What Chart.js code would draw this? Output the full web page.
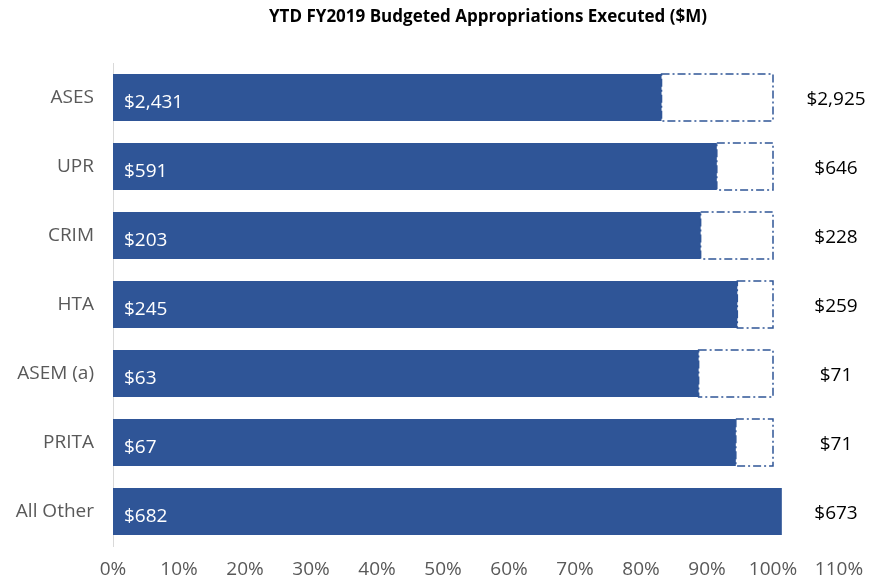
<!DOCTYPE html>
<html>
<head>
<meta charset="utf-8">
<script src="https://cdn.jsdelivr.net/npm/chart.js@4"></script>
<style>
  html, body { margin: 0; padding: 0; background: #fff; }
  #wrap { width: 873px; height: 585px; }
</style>
</head>
<body>
<div id="wrap"><canvas id="budgetChart"></canvas></div>
<script>
const categories = ['ASES', 'UPR', 'CRIM', 'HTA', 'ASEM (a)', 'PRITA', 'All Other'];
const executed = [2431, 591, 203, 245, 63, 67, 682];   // $M executed YTD
const budgeted = [2925, 646, 228, 259, 71, 71, 673];   // $M budgeted
const xTicks = [0, 10, 20, 30, 40, 50, 60, 70, 80, 90, 100, 110];

const blue = '#2f5597';
const fontFamily = "'Open Sans', 'Noto Sans', sans-serif";

// share executed and what is left of the budget
const pctExecuted = executed.map((v, i) => v / budgeted[i] * 100);
const pctRemaining = pctExecuted.map(p => Math.max(0, 100 - p));

const fmt = v => '$' + v.toLocaleString('en-US');

// dashed outline for the remaining part, plus labels and title
const extras = {
    id: 'extras',
    afterDatasetsDraw(chart) {
        const ctx = chart.ctx;
        const area = chart.chartArea;

        // dash-dot boxes
        const rest = chart.getDatasetMeta(1);
        ctx.save();
        ctx.strokeStyle = blue;
        ctx.lineWidth = 1.5;
        ctx.setLineDash([8, 3, 2, 3]);
        rest.data.forEach((bar, i) => {
            if (pctRemaining[i] <= 0) return;
            const p = bar.getProps(['x', 'y', 'base', 'height'], true);
            ctx.strokeRect(p.base, p.y - p.height / 2, p.x - p.base, p.height);
        });
        ctx.restore();

        // executed values inside the bars
        const done = chart.getDatasetMeta(0);
        ctx.save();
        ctx.fillStyle = '#ffffff';
        ctx.font = '19px ' + fontFamily;
        ctx.textAlign = 'left';
        ctx.textBaseline = 'middle';
        done.data.forEach((bar, i) => {
            const p = bar.getProps(['y', 'base'], true);
            ctx.fillText(fmt(executed[i]), p.base + 11, p.y + 5);
        });

        // budget totals to the right
        ctx.fillStyle = '#000000';
        ctx.textAlign = 'center';
        const xRight = chart.scales.x.getPixelForValue(110);
        done.data.forEach((bar, i) => {
            const p = bar.getProps(['y'], true);
            ctx.fillText(fmt(budgeted[i]), xRight - 3, p.y + 2);
        });

        // title
        ctx.font = 'bold 17px ' + fontFamily;
        ctx.fillText('YTD FY2019 Budgeted Appropriations Executed ($M)', (area.left + area.right) / 2 + 12, 17);
        ctx.restore();
    }
};

const ctx = document.getElementById('budgetChart').getContext('2d');
const budgetChart = new Chart(ctx, {
    type: 'bar',
    data: {
        labels: categories,
        datasets: [
            {
                label: 'Executed',
                data: pctExecuted,
                backgroundColor: blue,
                borderWidth: 0,
                barPercentage: 0.68,
                categoryPercentage: 1
            },
            {
                label: 'Remaining',
                data: pctRemaining,
                backgroundColor: 'rgba(0,0,0,0)',
                borderWidth: 0,
                barPercentage: 0.68,
                categoryPercentage: 1
            }
        ]
    },
    options: {
        indexAxis: 'y',
        responsive: true,
        maintainAspectRatio: false,
        animation: false,
        layout: { padding: { top: 63, right: 34, left: 0, bottom: 0 } },
        plugins: {
            legend: { display: false },
            title: { display: false },
            tooltip: { enabled: false }
        },
        scales: {
            x: {
                stacked: true,
                min: 0,
                max: 110,
                afterBuildTicks: axis => { axis.ticks = xTicks.map(v => ({ value: v })); },
                afterFit: axis => { axis.height = 39; axis.paddingRight = 0; },
                grid: { display: false, drawTicks: false },
                border: { display: false },
                ticks: {
                    color: '#595959',
                    font: { family: fontFamily, size: 19 },
                    padding: 12,
                    maxRotation: 0,
                    callback: v => v + '%'
                }
            },
            y: {
                stacked: true,
                afterFit: axis => { axis.width = 113; },
                grid: { display: false, drawTicks: false },
                border: { display: true, color: '#d9d9d9', width: 1 },
                ticks: {
                    color: '#595959',
                    font: { family: fontFamily, size: 19 },
                    padding: 19
                }
            }
        }
    },
    plugins: [extras]
});
</script>
</body>
</html>
